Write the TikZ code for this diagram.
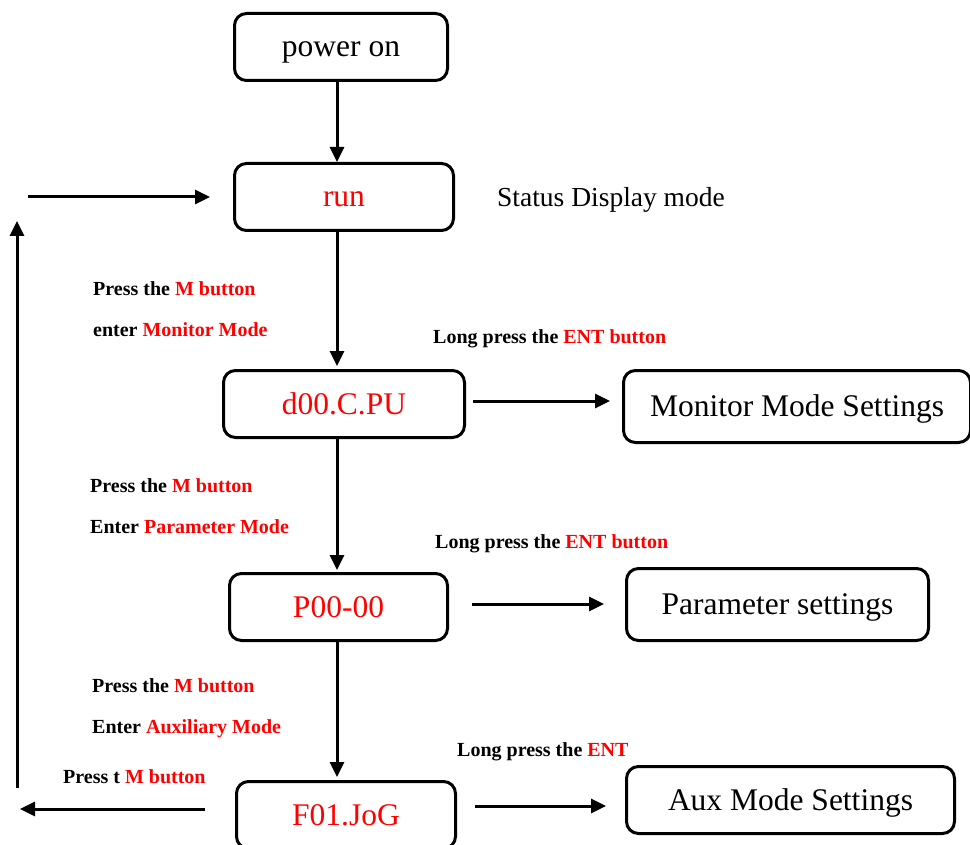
\documentclass[tikz,border=0pt]{standalone}
\usepackage{fontspec}
\setmainfont{Liberation Serif}
\usepackage{xcolor}
\usepackage{tikz}
\usetikzlibrary{arrows.meta, positioning}
\definecolor{figred}{RGB}{255,0,0}
\tikzstyle{modebox} = [rectangle, rounded corners=12pt, draw=black,
line width=3pt, minimum height=67pt, text height=23pt, text depth=3pt,
font=\fontsize{31.5}{36}\selectfont]
\tikzstyle{keytext} = [anchor=base west, inner sep=0pt,
font=\fontsize{20}{24}\selectfont\bfseries]
\tikzstyle{arrow} = [-{Triangle[length=15pt,width=14pt]}, line width=3pt]
\newcommand{\rd}[1]{\textcolor{figred}{#1}}

\begin{document}
\begin{tikzpicture}[x=1pt, y=-1pt]
    \useasboundingbox (0,0) rectangle (970,845);
    % main column
    \node (pwr) [modebox, minimum width=213pt] at (341,47) {power on};
    \node (run) [modebox, minimum width=219pt, text=figred] at (344,197) {run};
    \node (mon) [modebox, minimum width=241pt, text=figred] at (344,404) {d00.C.PU};
    \node (par) [modebox, minimum width=218pt, text=figred] at (338.5,607) {P00-00};
    \node (aux) [modebox, minimum width=219pt, text=figred] at (346,815) {F01.JoG};
    % settings boxes
    \node (monset) [modebox, minimum width=347pt, minimum height=72pt] at (797,406.5) {Monitor Mode Settings};
    \node (parset) [modebox, minimum width=302pt, minimum height=72pt] at (777.5,604.5) {Parameter settings};
    \node (auxset) [modebox, minimum width=328pt] at (790.5,800) {Aux Mode Settings};

    \node (status) [keytext, font=\fontsize{27.5}{32}\selectfont] at (497,207) {Status Display mode};

    % key labels
    \node (lblm1) [keytext] at (93,296) {Press the \rd{M button}};
    \node (lblm2) [keytext] at (93,337) {enter \rd{Monitor Mode}};
    \node (lble1) [keytext] at (433,344) {Long press the \rd{ENT button}};
    \node (lblp1) [keytext] at (90,492) {Press the \rd{M button}};
    \node (lblp2) [keytext] at (90,533) {Enter \rd{Parameter Mode}};
    \node (lble2) [keytext] at (435,548) {Long press the \rd{ENT button}};
    \node (lbla1) [keytext] at (92,692) {Press the \rd{M button}};
    \node (lbla2) [keytext] at (92,733) {Enter \rd{Auxiliary Mode}};
    \node (lble3) [keytext] at (457,756) {Long press the \rd{ENT}};
    \node (lblbk) [keytext] at (63,783) {Press t \rd{M button}};

    % connectors
    \coordinate (spine) at (337,0);
    \draw[arrow] (pwr.south -| spine) -- (run.north -| spine);
    \draw[arrow, shorten >=3pt] (run.south -| spine) -- (mon.north -| spine);
    \draw[arrow, shorten >=2pt] (mon.south -| spine) -- (par.north -| spine);
    \draw[arrow, shorten >=3pt] (par.south -| spine) -- (aux.north -| spine);

    \draw[arrow, shorten <=7pt, shorten >=12pt] ([yshift=3pt]mon.east) -- ([yshift=3pt]mon.east -| monset.west);
    \draw[arrow, shorten <=23pt, shorten >=21pt] ([yshift=3pt]par.east) -- ([yshift=3pt]par.east -| parset.west);
    \draw[arrow, shorten <=18pt, shorten >=19pt] ([yshift=9pt]aux.east) -- ([yshift=9pt]aux.east -| auxset.west);

    % way back to the status display
    \coordinate (backbot) at (20,809);
    \coordinate (upbot) at (17,788);
    \coordinate (uptop) at (17,221);
    \coordinate (backtop) at (28,197);
    \draw[arrow, shorten <=30pt] (aux.west |- backbot) -- (backbot);
    \draw[arrow] (upbot) -- (uptop);
    \draw[arrow, shorten >=23pt] (backtop) -- (backtop -| run.west);
\end{tikzpicture}
\end{document}
